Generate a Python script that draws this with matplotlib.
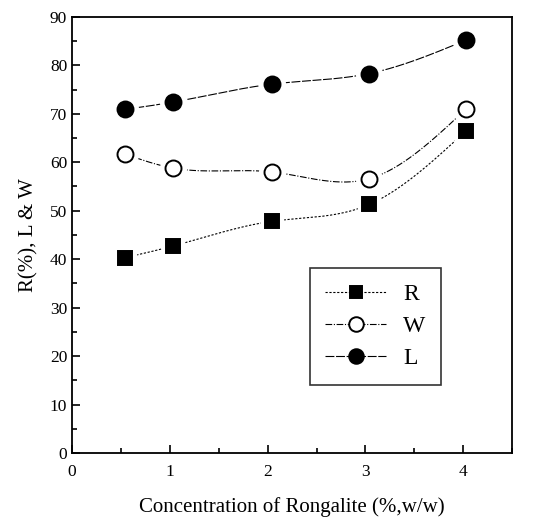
import numpy as np
import matplotlib
matplotlib.use("Agg")
import matplotlib.pyplot as plt
from matplotlib.ticker import MultipleLocator
from matplotlib.lines import Line2D

conc = [0.54, 1.03, 2.04, 3.04, 4.03]
R = [40.3, 42.7, 47.8, 51.3, 66.5]
W = [61.7, 58.8, 58.0, 56.6, 71.0]
L = [70.9, 72.4, 76.1, 78.3, 85.2]
series_names = ["R", "W", "L"]

plt.rcParams['font.family'] = ['Liberation Serif', 'DejaVu Serif']

def smooth(x, y, n=200):
    # natural cubic spline for drawing the connecting curve only
    x = np.asarray(x, float); y = np.asarray(y, float)
    k = len(x); h = np.diff(x)
    A = np.zeros((k, k)); b = np.zeros(k)
    A[0, 0] = A[-1, -1] = 1
    for i in range(1, k - 1):
        A[i, i - 1] = h[i - 1]; A[i, i] = 2 * (h[i - 1] + h[i]); A[i, i + 1] = h[i]
        b[i] = 3 * ((y[i + 1] - y[i]) / h[i] - (y[i] - y[i - 1]) / h[i - 1])
    c = np.linalg.solve(A, b)
    xs = np.linspace(x[0], x[-1], n); ys = np.empty_like(xs)
    for j, xv in enumerate(xs):
        i = min(np.searchsorted(x, xv, side='right') - 1, k - 2)
        dx = xv - x[i]
        bi = (y[i + 1] - y[i]) / h[i] - h[i] * (2 * c[i] + c[i + 1]) / 3
        di = (c[i + 1] - c[i]) / (3 * h[i])
        ys[j] = y[i] + bi * dx + c[i] * dx ** 2 + di * dx ** 3
    return xs, ys

fig = plt.figure(figsize=(5.34, 5.25), dpi=100)
ax = fig.add_axes([0.135, 0.137, 0.824, 0.831])

styles = {
    "R": dict(ls=(0, (2, 1.5)), marker='s', mfc='black', ms=9.5),
    "W": dict(ls=(0, (6, 1.5, 1, 1.5)), marker='o', mfc='white', ms=11.5),
    "L": dict(ls=(0, (8, 1.5)), marker='o', mfc='black', ms=11.5),
}
data = {"R": R, "W": W, "L": L}
for name in series_names:
    st = styles[name]
    xs, ys = smooth(conc, data[name])
    ax.plot(xs, ys, color='black', lw=0.8, ls=st['ls'], zorder=2)
    ax.plot(conc, data[name], ls='none', marker=st['marker'], ms=st['ms'] + 7,
            mfc='white', mec='white', zorder=3)
    ax.plot(conc, data[name], ls='none', marker=st['marker'], ms=st['ms'],
            mfc=st['mfc'], mec='black', mew=1.4, zorder=4)

ax.set_xlim(0, 4.5)
ax.set_ylim(0, 90)
ax.xaxis.set_major_locator(MultipleLocator(1))
ax.xaxis.set_minor_locator(MultipleLocator(0.5))
ax.yaxis.set_major_locator(MultipleLocator(10))
ax.yaxis.set_minor_locator(MultipleLocator(5))
ax.tick_params(which='both', direction='in', top=False, right=False, labelsize=12.5, width=1.2)
ax.tick_params(which='major', length=6)
ax.tick_params(which='minor', length=3.5)
ax.tick_params(axis='x', pad=8)
for sp in ax.spines.values():
    sp.set_linewidth(1.3)

ax.set_xlabel("Concentration of Rongalite (%,w/w)", fontsize=15, labelpad=12)
ax.set_ylabel("R(%), L & W", fontsize=15, labelpad=8)

handles = []
for name in series_names:
    st = styles[name]
    handles.append(Line2D([], [], color='black', lw=0.8, ls=st['ls'], marker=st['marker'],
                          ms=st['ms'] - 1, mfc=st['mfc'], mec='black', mew=1.4))
leg = ax.legend(handles, series_names, loc='lower left', bbox_to_anchor=(0.54, 0.157),
                fontsize=17, frameon=True, fancybox=False, edgecolor='black',
                handlelength=2.6, handletextpad=0.7, labelspacing=0.45, borderpad=0.65,
                borderaxespad=0)
leg.get_frame().set_linewidth(1.2)

fig.savefig("out.png", dpi=100)
